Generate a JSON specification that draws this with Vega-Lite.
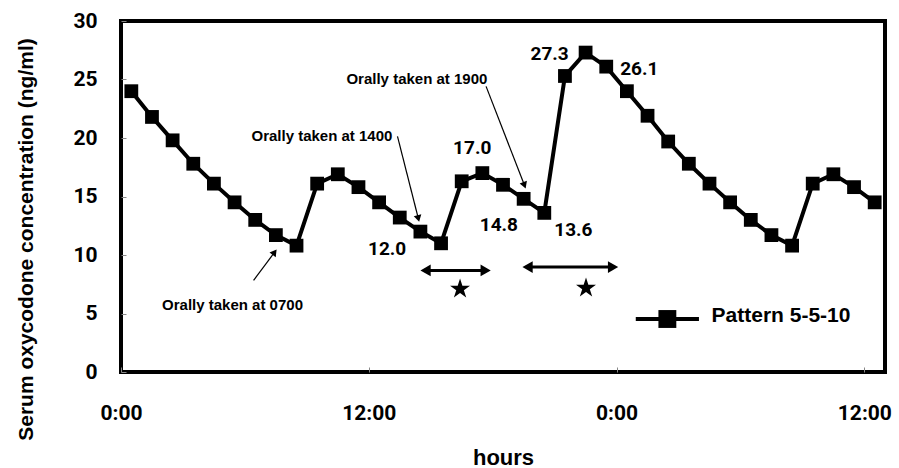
{
  "$schema": "https://vega.github.io/schema/vega-lite/v6.json",
  "autosize": {"type": "none"},
  "width": 764,
  "height": 351,
  "padding": {"left": 121, "top": 21, "right": 14, "bottom": 96},
  "background": "white",
  "config": {
    "view": {"stroke": "black", "strokeWidth": 4},
    "axis": {"grid": false, "domain": false}
  },
  "datasets": {
    "conc": [
      {"hour": 0.5, "value": 24.0}, {"hour": 1.5, "value": 21.8}, {"hour": 2.5, "value": 19.8},
      {"hour": 3.5, "value": 17.8}, {"hour": 4.5, "value": 16.1}, {"hour": 5.5, "value": 14.5},
      {"hour": 6.5, "value": 13.0}, {"hour": 7.5, "value": 11.7}, {"hour": 8.5, "value": 10.8},
      {"hour": 9.5, "value": 16.1}, {"hour": 10.5, "value": 16.9}, {"hour": 11.5, "value": 15.8},
      {"hour": 12.5, "value": 14.5}, {"hour": 13.5, "value": 13.2}, {"hour": 14.5, "value": 12.0},
      {"hour": 15.5, "value": 11.0}, {"hour": 16.5, "value": 16.3}, {"hour": 17.5, "value": 17.0},
      {"hour": 18.5, "value": 16.0}, {"hour": 19.5, "value": 14.8}, {"hour": 20.5, "value": 13.6},
      {"hour": 21.5, "value": 25.3}, {"hour": 22.5, "value": 27.3}, {"hour": 23.5, "value": 26.1},
      {"hour": 24.5, "value": 24.0}, {"hour": 25.5, "value": 21.9}, {"hour": 26.5, "value": 19.7},
      {"hour": 27.5, "value": 17.8}, {"hour": 28.5, "value": 16.1}, {"hour": 29.5, "value": 14.5},
      {"hour": 30.5, "value": 13.0}, {"hour": 31.5, "value": 11.7}, {"hour": 32.5, "value": 10.8},
      {"hour": 33.5, "value": 16.1}, {"hour": 34.5, "value": 16.9}, {"hour": 35.5, "value": 15.8},
      {"hour": 36.5, "value": 14.5}
    ],
    "valueLabels": [
      {"hour": 12.89, "value": 10.51, "label": "12.0"},
      {"hour": 17.01, "value": 19.15, "label": "17.0"},
      {"hour": 18.30, "value": 12.59, "label": "14.8"},
      {"hour": 21.91, "value": 12.16, "label": "13.6"},
      {"hour": 20.76, "value": 27.19, "label": "27.3"},
      {"hour": 25.10, "value": 25.90, "label": "26.1"}
    ],
    "notes": [
      {"hour": 5.40, "value": 5.75, "label": "Orally taken at 0700"},
      {"hour": 9.73, "value": 20.2, "label": "Orally taken at 1400"},
      {"hour": 14.33, "value": 25.04, "label": "Orally taken at 1900"}
    ],
    "arrows": [
      {"id": "a0700", "hour": 6.42, "value": 7.83, "hour2": 7.44, "value2": 10.24},
      {"id": "a1400", "hour": 13.39, "value": 20.14, "hour2": 14.40, "value2": 13.12},
      {"id": "a1900", "hour": 17.68, "value": 24.41, "hour2": 19.54, "value2": 15.96}
    ],
    "spans": [
      {"hour": 14.75, "hour2": 17.66, "value": 8.68},
      {"hour": 19.69, "hour2": 23.83, "value": 8.97}
    ],
    "stars": [
      {"hour": 16.42, "value": 7.09},
      {"hour": 22.52, "value": 7.18}
    ],
    "legendLine": [{"hour": 24.93, "hour2": 27.99, "value": 4.53}],
    "legendSymbol": [{"hour": 26.46, "value": 4.53}],
    "legendText": [{"hour": 28.6, "value": 4.75, "label": "Pattern 5-5-10"}]
  },
  "encoding": {
    "x": {
      "field": "hour", "type": "quantitative",
      "scale": {"domain": [0, 37], "nice": false, "zero": false},
      "axis": {
        "values": [0, 12, 24, 36],
        "labelExpr": "(datum.value % 24) + ':00'",
        "title": "hours",
        "titleFont": "Liberation Sans", "titleFontWeight": "bold", "titleFontSize": 22, "titleColor": "black",
        "titleBaseline": "alphabetic", "titleY": 92,
        "labelFont": "Roboto", "labelFontSize": 21, "labelFontWeight": "bold", "labelColor": "black",
        "labelPadding": 35, "tickSize": -5, "tickColor": "#888", "tickWidth": 1, "labelFlush": false
      }
    },
    "y": {
      "field": "value", "type": "quantitative",
      "scale": {"domain": [0, 30], "nice": false},
      "axis": {
        "values": [0, 5, 10, 15, 20, 25, 30],
        "title": "Serum oxycodone concentration (ng/ml)",
        "titleFont": "Liberation Sans", "titleFontWeight": "bold", "titleFontSize": 21, "titleColor": "black",
        "titleX": -95, "titleY": 218, "titleBaseline": "middle", "titleAlign": "center", "titleAngle": -90,
        "labelFont": "Roboto", "labelFontSize": 21, "labelFontWeight": "bold", "labelColor": "black",
        "labelPadding": 29, "tickSize": -5, "tickColor": "#888", "tickWidth": 1
      }
    }
  },
  "layer": [
    {"data": {"name": "conc"}, "mark": {"type": "line", "color": "black", "strokeWidth": 4}},
    {"data": {"name": "conc"}, "mark": {"type": "point", "shape": "square", "filled": true, "color": "black", "size": 190, "opacity": 1}},
    {"data": {"name": "valueLabels"}, "mark": {"type": "text", "font": "Roboto", "fontSize": 19, "fontWeight": "bold", "color": "black", "align": "center", "baseline": "middle"},
      "encoding": {"text": {"field": "label"}}},
    {"data": {"name": "notes"}, "mark": {"type": "text", "font": "Liberation Sans", "fontSize": 15, "fontWeight": "bold", "color": "black", "align": "center", "baseline": "middle"},
      "encoding": {"text": {"field": "label"}}},
    {"data": {"name": "arrows"}, "mark": {"type": "rule", "color": "black", "strokeWidth": 1.2},
      "encoding": {"x2": {"field": "hour2"}, "y2": {"field": "value2"}}},
    {"data": {"name": "arrows"}, "transform": [{"filter": "datum.id == 'a0700'"}],
      "mark": {"type": "point", "shape": "triangle-up", "filled": true, "color": "black", "size": 60, "angle": 37, "opacity": 1},
      "encoding": {"x": {"field": "hour2", "type": "quantitative"}, "y": {"field": "value2", "type": "quantitative"}}},
    {"data": {"name": "arrows"}, "transform": [{"filter": "datum.id == 'a1400'"}],
      "mark": {"type": "point", "shape": "triangle-up", "filled": true, "color": "black", "size": 60, "angle": 166, "opacity": 1},
      "encoding": {"x": {"field": "hour2", "type": "quantitative"}, "y": {"field": "value2", "type": "quantitative"}}},
    {"data": {"name": "arrows"}, "transform": [{"filter": "datum.id == 'a1900'"}],
      "mark": {"type": "point", "shape": "triangle-up", "filled": true, "color": "black", "size": 60, "angle": 159, "opacity": 1},
      "encoding": {"x": {"field": "hour2", "type": "quantitative"}, "y": {"field": "value2", "type": "quantitative"}}},
    {"data": {"name": "spans"}, "mark": {"type": "rule", "color": "black", "strokeWidth": 3},
      "encoding": {"x2": {"field": "hour2"}}},
    {"data": {"name": "spans"}, "mark": {"type": "point", "shape": "triangle-left", "filled": true, "color": "black", "size": 140, "opacity": 1}},
    {"data": {"name": "spans"}, "mark": {"type": "point", "shape": "triangle-right", "filled": true, "color": "black", "size": 140, "opacity": 1},
      "encoding": {"x": {"field": "hour2", "type": "quantitative"}}},
    {"data": {"name": "stars"}, "mark": {"type": "point", "shape": "M0,-1L0.2245,-0.309L0.951,-0.309L0.363,0.118L0.588,0.809L0,0.382L-0.588,0.809L-0.363,0.118L-0.951,-0.309L-0.2245,-0.309Z", "filled": true, "color": "black", "size": 440, "opacity": 1}},
    {"data": {"name": "legendLine"}, "mark": {"type": "rule", "color": "black", "strokeWidth": 4},
      "encoding": {"x2": {"field": "hour2"}}},
    {"data": {"name": "legendSymbol"}, "mark": {"type": "point", "shape": "square", "filled": true, "color": "black", "size": 320, "opacity": 1}},
    {"data": {"name": "legendText"}, "mark": {"type": "text", "font": "Liberation Sans", "fontSize": 21, "fontWeight": "bold", "color": "black", "align": "left", "baseline": "middle"},
      "encoding": {"text": {"field": "label"}}}
  ]
}
